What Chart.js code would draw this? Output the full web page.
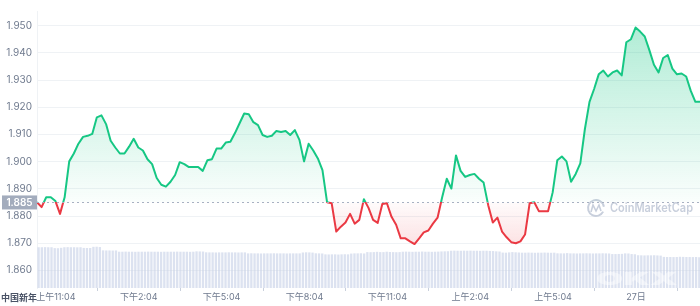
<!DOCTYPE html>
<html>
<head>
<meta charset="utf-8">
<script src="https://cdn.jsdelivr.net/npm/chart.js@4.4.0/dist/chart.umd.min.js"></script>
<style>
  body { margin: 0; background: #fff; }
  #wrap { width: 700px; height: 306px; }
</style>
</head>
<body>
<div id="wrap"><canvas id="priceChart" width="700" height="306"></canvas></div>
<script>
// price every 10 minutes, starting 10:23
const prices = [
  1.8851, 1.8833, 1.8869, 1.8869, 1.8855, 1.8808, 1.8869, 1.9001, 1.9030, 1.9066,
  1.9091, 1.9095, 1.9102, 1.9163, 1.9170, 1.9138, 1.9077, 1.9052, 1.9030, 1.9030,
  1.9055, 1.9084, 1.9052, 1.9041, 1.9009, 1.8991, 1.8940, 1.8915, 1.8908, 1.8926,
  1.8951, 1.8998, 1.8991, 1.8980, 1.8980, 1.8980, 1.8966, 1.9005, 1.9009, 1.9048,
  1.9048, 1.9070, 1.9073, 1.9105, 1.9141, 1.9177, 1.9174, 1.9145, 1.9134, 1.9098,
  1.9091, 1.9095, 1.9113, 1.9109, 1.9113, 1.9098, 1.9116, 1.9080, 1.9001, 1.9066,
  1.9041, 1.9012, 1.8969, 1.8851, 1.8847, 1.8743, 1.8761, 1.8776, 1.8808, 1.8772,
  1.8786, 1.8862, 1.8830, 1.8786, 1.8775, 1.8844, 1.8847, 1.8797, 1.8768, 1.8718,
  1.8718, 1.8707, 1.8697, 1.8718, 1.8740, 1.8747, 1.8772, 1.8794, 1.8869, 1.8937,
  1.8901, 1.9023, 1.8966, 1.8944, 1.8951, 1.8955, 1.8937, 1.8923, 1.8840, 1.8776,
  1.8794, 1.8743, 1.8722, 1.8704, 1.8700, 1.8707, 1.8732, 1.8847, 1.8851, 1.8818,
  1.8818, 1.8818, 1.8887, 1.9005, 1.9019, 1.9001, 1.8926, 1.8955, 1.8994, 1.9120,
  1.9220, 1.9267, 1.9321, 1.9335, 1.9313, 1.9328, 1.9335, 1.9317, 1.9439, 1.9450,
  1.9493, 1.9478, 1.9460, 1.9410, 1.9356, 1.9328, 1.9381, 1.9392, 1.9342, 1.9321,
  1.9324, 1.9313, 1.9260, 1.9220, 1.9220
];

// volume every 7 minutes (relative units)
const volumes = [
  41.8, 41.8, 41.9, 41.8, 41.8, 40.9, 40.8, 41.2, 41.8, 41.9,
  41.8, 41.8, 41.7, 41.8, 41.1, 41.0, 41.0, 42.2, 42.3, 42.0,
  38.6, 38.5, 38.5, 38.4, 38.5, 37.2, 37.2, 37.3, 37.2, 37.2,
  37.1, 37.2, 37.2, 37.2, 37.3, 37.2, 37.2, 37.2, 37.1, 37.2,
  37.2, 37.2, 37.2, 37.3, 37.2, 37.2, 37.2, 37.1, 37.2, 37.6,
  37.5, 37.4, 36.6, 36.5, 36.5, 36.4, 36.5, 36.5, 36.5, 36.6,
  36.5, 36.5, 36.4, 36.5, 36.5, 35.5, 35.6, 35.5, 35.5, 35.4,
  35.5, 35.5, 35.5, 35.6, 35.5, 35.5, 35.5, 35.4, 35.5, 35.5,
  35.5, 35.5, 36.4, 36.6, 36.5, 36.3, 35.6, 35.5, 35.4, 34.5,
  34.4, 34.5, 34.5, 34.3, 34.5, 34.6, 34.5, 35.3, 35.5, 35.5,
  35.6, 35.4, 36.8, 36.7, 36.8, 37.1, 36.8, 36.8, 37.2, 36.9,
  36.8, 36.7, 36.8, 37.2, 37.3, 37.2, 37.1, 37.2, 37.2, 37.4,
  37.2, 37.2, 37.1, 37.2, 37.3, 37.5, 37.6, 37.7, 38.2, 38.3,
  38.2, 38.2, 38.3, 38.2, 38.3, 38.2, 38.2, 38.1, 38.2, 38.2,
  38.0, 37.9, 37.6, 37.4, 36.3, 36.2, 36.5, 36.8, 36.6, 36.4,
  36.2, 36.2, 36.3, 36.2, 36.1, 36.2, 36.2, 36.3, 36.2, 36.1,
  36.2, 35.6, 35.5, 35.5, 35.8, 35.5, 35.5, 35.4, 35.5, 35.5,
  35.6, 35.5, 35.4, 35.5, 35.5, 35.6, 35.5, 35.4, 34.8, 34.8,
  34.9, 35.0, 35.5, 35.4, 34.8, 34.6, 33.6, 33.5, 33.4, 33.5,
  33.5, 33.6, 33.4, 33.2, 31.9, 31.8, 31.8, 31.7, 31.8, 32.0,
  31.9, 31.8, 31.8, 31.7, 31.8, 31.6
];

const baseline = 1.885;
const yTicks = [1.86, 1.87, 1.88, 1.89, 1.90, 1.91, 1.92, 1.93, 1.94, 1.95];
const xTickMinutes = [41, 221, 401, 581, 761, 941, 1121, 1301];
const xTickLabels = ['上午11:04', '下午2:04', '下午5:04', '下午8:04', '下午11:04', '上午2:04', '上午5:04', '27日'];

const priceStep = 10;
const volStep = 7;
const green = '#16c784';
const red = '#ea3943';
const tickFont = { family: "Inter, 'Noto Sans CJK SC', sans-serif", size: 9 };

function splitGradient(chart, topColor, midTop, midBottom, bottomColor) {
  const area = chart.chartArea;
  if (!area) return topColor;
  const yb = chart.scales.y.getPixelForValue(baseline);
  const s = Math.min(Math.max((yb - area.top) / (area.bottom - area.top), 0), 1);
  const g = chart.ctx.createLinearGradient(0, area.top, 0, area.bottom);
  g.addColorStop(0, topColor);
  g.addColorStop(s, midTop);
  g.addColorStop(s, midBottom);
  g.addColorStop(1, bottomColor);
  return g;
}

const overlay = {
  id: 'overlay',
  beforeDatasetsDraw(chart) {
    const { ctx } = chart;
    ctx.save();
    // watermark
    ctx.strokeStyle = '#c8cfdc';
    ctx.lineWidth = 2;
    ctx.beginPath();
    ctx.arc(596, 208, 8, 0.15 * Math.PI, 1.95 * Math.PI);
    ctx.stroke();
    ctx.lineWidth = 1.6;
    ctx.beginPath();
    ctx.moveTo(591, 212);
    ctx.lineTo(593, 205);
    ctx.lineTo(596, 211);
    ctx.lineTo(599, 205);
    ctx.lineTo(601, 211);
    ctx.stroke();
    ctx.fillStyle = '#c8cfdc';
    ctx.font = "600 12.5px Inter, sans-serif";
    ctx.textBaseline = 'middle';
    ctx.fillText('CoinMarketCap', 610, 208.5, 83);
    ctx.restore();
  },
  afterDatasetsDraw(chart) {
    const { ctx, chartArea } = chart;
    const yb = Math.round(chart.scales.y.getPixelForValue(baseline)) + 0.5;
    ctx.save();
    ctx.strokeStyle = '#a7b1c2';
    ctx.lineWidth = 1;
    ctx.setLineDash([2, 3]);
    ctx.beginPath();
    ctx.moveTo(chartArea.left, yb);
    ctx.lineTo(chartArea.right, yb);
    ctx.stroke();
    ctx.setLineDash([]);
    // faint exchange watermark over the volume bars
    ctx.fillStyle = 'rgba(255,255,255,0.45)';
    ctx.font = "900 22px Inter, sans-serif";
    ctx.textBaseline = 'bottom';
    ctx.save();
    ctx.translate(596, 289);
    ctx.scale(1.6, 0.8);
    ctx.fillText('OKX', 0, 0);
    ctx.restore();
    ctx.restore();
  },
  afterDraw(chart) {
    const { ctx } = chart;
    const yb = chart.scales.y.getPixelForValue(baseline);
    ctx.save();
    ctx.fillStyle = '#a3acbd';
    ctx.fillRect(2, yb - 7, 35, 14);
    ctx.fillStyle = '#ffffff';
    ctx.font = "600 10px Inter, sans-serif";
    ctx.textAlign = 'center';
    ctx.textBaseline = 'middle';
    ctx.fillText(baseline.toFixed(3), 19.5, yb + 0.5);
    ctx.fillStyle = '#4a5366';
    ctx.font = "bold 9px 'Noto Sans CJK SC', sans-serif";
    ctx.textAlign = 'left';
    ctx.fillText('中国新年', 1, 297.5);
    ctx.restore();
  }
};

const ctx = document.getElementById('priceChart').getContext('2d');

const priceChart = new Chart(ctx, {
  type: 'line',
  data: {
    datasets: [{
      type: 'line',
      data: prices.map((p, i) => ({ x: i * priceStep, y: p })),
      yAxisID: 'y',
      order: 0,
      borderWidth: 2,
      pointRadius: 0,
      tension: 0,
      borderJoinStyle: 'round',
      borderColor: (c) => splitGradient(c.chart, green, green, red, red),
      backgroundColor: (c) => splitGradient(c.chart,
        'rgba(22,199,132,0.36)', 'rgba(22,199,132,0.02)',
        'rgba(234,57,67,0.02)', 'rgba(234,57,67,0.28)'),
      fill: { target: { value: baseline } }
    }, {
      type: 'bar',
      data: volumes.map((v, j) => ({ x: j * volStep + volStep / 2, y: v })),
      yAxisID: 'y2',
      order: 1,
      backgroundColor: 'rgba(196,206,230,0.6)',
      borderWidth: 0,
      categoryPercentage: 0.8,
      barPercentage: 0.9
    }]
  },
  options: {
    responsive: false,
    animation: false,
    layout: { padding: { top: 4, right: 0, left: 0, bottom: 0 } },
    plugins: {
      legend: { display: false },
      tooltip: { enabled: false }
    },
    scales: {
      x: {
        type: 'linear',
        min: 0,
        max: 1440,
        offset: false,
        afterFit: (s) => { s.height = 18; },
        afterBuildTicks: (s) => { s.ticks = xTickMinutes.map(v => ({ value: v })); },
        grid: { display: true, drawOnChartArea: false, drawTicks: true, tickLength: 3, color: '#c9d0dc' },
        border: { display: false },
        ticks: {
          autoSkip: false,
          maxRotation: 0,
          padding: 1,
          color: '#6f7a8e',
          font: tickFont,
          callback: (v, i) => xTickLabels[i]
        }
      },
      y: {
        position: 'left',
        min: 1.85355,
        max: 1.95538,
        afterFit: (s) => { s.width = 37; },
        afterBuildTicks: (s) => { s.ticks = yTicks.map(v => ({ value: v })); },
        grid: { color: '#eff2f5', drawTicks: false },
        border: { display: true, color: '#eff2f5' },
        ticks: {
          padding: 5,
          color: '#6f7a8e',
          font: { family: "Inter, sans-serif", size: 10 },
          callback: (v) => Number(v).toFixed(3)
        }
      },
      y2: {
        display: false,
        min: 0,
        max: 284
      }
    }
  },
  plugins: [overlay]
});
</script>
</body>
</html>
